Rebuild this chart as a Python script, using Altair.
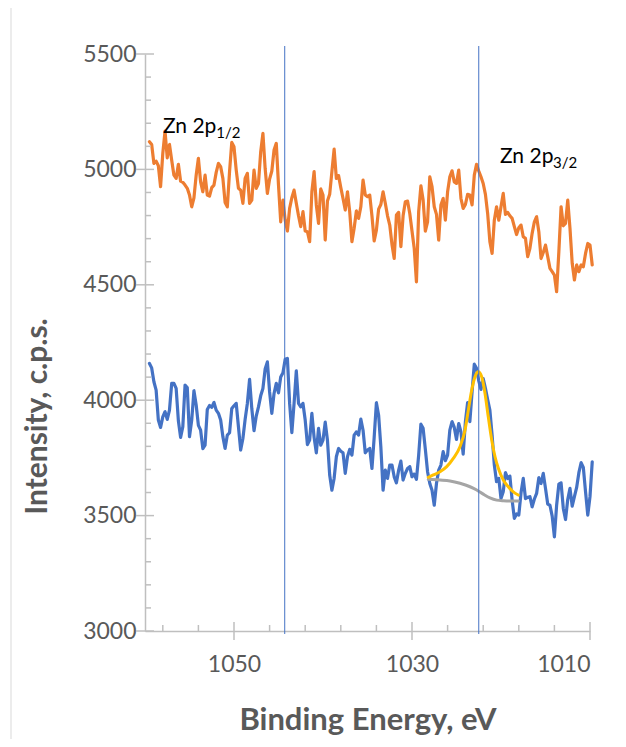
import altair as alt
import pandas as pd

# ---------------- data ----------------
energy = [
    1059.5, 1059.25, 1059.0, 1058.75, 1058.5, 1058.25, 1058.0, 1057.75,
    1057.5, 1057.25, 1057.0, 1056.75, 1056.5, 1056.25, 1056.0, 1055.75,
    1055.5, 1055.25, 1055.0, 1054.75, 1054.5, 1054.25, 1054.0, 1053.75,
    1053.5, 1053.25, 1053.0, 1052.75, 1052.5, 1052.25, 1052.0, 1051.75,
    1051.5, 1051.25, 1051.0, 1050.75, 1050.5, 1050.25, 1050.0, 1049.75,
    1049.5, 1049.25, 1049.0, 1048.75, 1048.5, 1048.25, 1048.0, 1047.75,
    1047.5, 1047.25, 1047.0, 1046.75, 1046.5, 1046.25, 1046.0, 1045.75,
    1045.5, 1045.25, 1045.0, 1044.75, 1044.5, 1044.25, 1044.0, 1043.75,
    1043.5, 1043.25, 1043.0, 1042.75, 1042.5, 1042.25, 1042.0, 1041.75,
    1041.5, 1041.25, 1041.0, 1040.75, 1040.5, 1040.25, 1040.0, 1039.75,
    1039.5, 1039.25, 1039.0, 1038.75, 1038.5, 1038.25, 1038.0, 1037.75,
    1037.5, 1037.25, 1037.0, 1036.75, 1036.5, 1036.25, 1036.0, 1035.75,
    1035.5, 1035.25, 1035.0, 1034.75, 1034.5, 1034.25, 1034.0, 1033.75,
    1033.5, 1033.25, 1033.0, 1032.75, 1032.5, 1032.25, 1032.0, 1031.75,
    1031.5, 1031.25, 1031.0, 1030.75, 1030.5, 1030.25, 1030.0, 1029.75,
    1029.5, 1029.25, 1029.0, 1028.75, 1028.5, 1028.25, 1028.0, 1027.75,
    1027.5, 1027.25, 1027.0, 1026.75, 1026.5, 1026.25, 1026.0, 1025.75,
    1025.5, 1025.25, 1025.0, 1024.75, 1024.5, 1024.25, 1024.0, 1023.75,
    1023.5, 1023.25, 1023.0, 1022.75, 1022.5, 1022.25, 1022.0, 1021.75,
    1021.5, 1021.25, 1021.0, 1020.75, 1020.5, 1020.25, 1020.0, 1019.75,
    1019.5, 1019.25, 1019.0, 1018.75, 1018.5, 1018.25, 1018.0, 1017.75,
    1017.5, 1017.25, 1017.0, 1016.75, 1016.5, 1016.25, 1016.0, 1015.75,
    1015.5, 1015.25, 1015.0, 1014.75, 1014.5, 1014.25, 1014.0, 1013.75,
    1013.5, 1013.25, 1013.0, 1012.75, 1012.5, 1012.25, 1012.0, 1011.75,
    1011.5, 1011.25, 1011.0, 1010.75, 1010.5, 1010.25, 1010.0, 1009.75,
]

orange_cps = [
    5120, 5108, 5026, 5036, 5016, 4925, 5069, 5166, 5050, 5108, 5040, 4975,
    4961, 5022, 4949, 4944, 4932, 4918, 4889, 4838, 4877, 4975, 5048, 4946,
    4903, 4975, 4889, 4884, 4921, 4932, 4987, 5026, 5012, 4961, 4857, 4838,
    4990, 5117, 5098, 4997, 4918, 4910, 4853, 4961, 4983, 4853, 4867, 4997,
    4918, 4939, 5076, 5156, 5004, 4896, 4958, 4993, 5084, 5113, 4932, 4773,
    4867, 4780, 4733, 4831, 4877, 4910,
    4853, 4799, 4752, 4817, 4733, 4730, 4687, 4903, 4990, 4846, 4766, 4915,
    4889, 4694, 4863, 4892, 4990, 5088, 4961, 4973, 4921, 4874, 4824, 4903,
    4817, 4687, 4745, 4820, 4788, 4838, 4954, 4889, 4882, 4889, 4799, 4690,
    4737, 4828, 4848, 4903, 4853, 4799, 4759, 4675, 4614, 4802, 4814, 4665,
    4799, 4860, 4863, 4809, 4733, 4658, 4513, 4817, 4929, 4867, 4733, 4773,
    4968, 4925, 4838, 4805, 4694, 4846, 4874,
    4780, 4903, 4968, 4994, 4946, 4939, 4997, 4874, 4831, 4848, 4892, 4889,
    4846, 4975, 5022, 4993, 4968, 4939, 4892, 4809, 4687, 4636, 4780, 4838,
    4780, 4838, 4896, 4805, 4814, 4799, 4788, 4752, 4718, 4747, 4759, 4708,
    4701, 4622, 4658, 4723, 4773, 4795, 4730, 4614, 4640, 4672, 4622, 4571,
    4557, 4542, 4470, 4643, 4838, 4756, 4766, 4867, 4745, 4593, 4521, 4586,
    4557, 4586, 4578, 4636, 4679, 4672, 4586,
]

blue_cps = [
    4159, 4140, 4080, 4044, 3914, 3882, 3928, 3950, 3917, 3957, 4073, 4073,
    4051, 3911, 3839, 3885, 4065, 4055, 3842, 3914, 4041, 3979, 3891, 3870,
    3790, 3805, 3960, 3977, 3969, 3990, 3957, 3943, 3914, 3842, 3791, 3849,
    3859, 3964, 3976, 3986, 3885, 3784, 3834, 3917, 3986, 4090, 3964, 3868,
    3931, 3971, 4019, 4051, 4135, 4166, 4036, 3943, 4029, 4073, 4032, 4101,
    4119, 4177, 4181, 3986, 3859, 3986,
    4127, 3986, 3971, 3986, 3914, 3808, 3827, 3943, 3839, 3772, 3878, 3805,
    3827, 3905, 3827, 3676, 3610, 3661, 3755, 3791, 3779, 3772, 3683, 3755,
    3787, 3762, 3849, 3863, 3849, 3918, 3870, 3772, 3784, 3791, 3704, 3839,
    3989, 3935, 3798, 3610, 3697, 3661, 3719, 3719, 3668, 3642, 3697, 3736,
    3654, 3683, 3704, 3712, 3668, 3680, 3657, 3762, 3896, 3878, 3787, 3690,
    3639, 3610, 3545, 3639, 3697, 3719, 3777,
    3738, 3762, 3870, 3907, 3882, 3830, 3899, 3863, 3766, 3907, 3990, 3907,
    4036, 4156, 4138, 4084, 4047, 4094, 4051, 4003, 3957, 3849, 3719, 3647,
    3661, 3574, 3603, 3686, 3661, 3671, 3567, 3488, 3507, 3502, 3599, 3661,
    3574, 3579, 3582, 3538, 3572, 3596, 3664, 3639, 3683, 3618, 3550, 3545,
    3498, 3408, 3545, 3636, 3642, 3531, 3483, 3570, 3618, 3541, 3582, 3622,
    3686, 3729, 3709, 3603, 3502, 3582, 3733,
]

fit_energy = [1028.17, 1027.61, 1026.85, 1026.10, 1025.36, 1024.61, 1024.04,
              1023.67, 1023.29, 1022.92, 1022.55, 1022.17, 1021.80, 1021.43,
              1021.04, 1020.67, 1020.30, 1019.74, 1019.18, 1018.62, 1018.06]
fit_cps = [3666, 3676, 3690, 3712, 3748, 3798, 3871, 3957, 4044, 4102, 4123,
           4102, 4030, 3928, 3827, 3755, 3705, 3654, 3625, 3603, 3589]

bg_energy = [1028.17, 1026.85, 1025.73, 1024.61, 1023.48, 1022.73, 1021.99,
             1021.24, 1020.48, 1019.74, 1018.99, 1018.06]
bg_cps = [3657, 3654, 3650, 3640, 3625, 3611, 3593, 3577, 3567, 3564, 3563, 3563]

peak_positions = [1044.3, 1022.5]

x_major = [1010, 1030, 1050]
x_minor = [1014, 1018, 1022, 1026, 1034, 1038, 1042, 1046, 1054, 1058]
y_major = [3000, 3500, 4000, 4500, 5000, 5500]
y_minor = [3100, 3200, 3300, 3400, 3600, 3700, 3800, 3900, 4100, 4200,
           4300, 4400, 4600, 4700, 4800, 4900, 5100, 5200, 5300, 5400]

label_main = ["Zn 2p", "Zn 2p"]
label_main_e = [1057.98, 1020.11]
label_main_cps = [5158, 5026]
label_sub = ["1/2", "3/2"]
label_sub_e = [1052.0, 1014.16]
label_sub_cps = [5136, 5005]

# ---------------- chart ----------------
W, H = 445, 577
FONT = "Lato"
AXIS_GRAY = "#BFBFBF"
TEXT_GRAY = "#595959"

xs = alt.Scale(domain=[1010, 1060], reverse=True, nice=False, zero=False)
ys = alt.Scale(domain=[3000, 5500], nice=False, zero=False)

series = pd.DataFrame({"e": energy, "orange": orange_cps, "blue": blue_cps})
orange_df = series[["e", "orange"]].rename(columns={"orange": "cps"})
blue_df = series[["e", "blue"]].rename(columns={"blue": "cps"})
fit_df = pd.DataFrame({"e": fit_energy, "cps": fit_cps})
bg_df = pd.DataFrame({"e": bg_energy, "cps": bg_cps})
peaks_df = pd.DataFrame({"e": peak_positions})
xmaj_df = pd.DataFrame({"e": x_major})
xmin_df = pd.DataFrame({"e": x_minor})
ymaj_df = pd.DataFrame({"cps": y_major})
ymin_df = pd.DataFrame({"cps": y_minor})
lab_df = pd.DataFrame({"e": label_main_e, "cps": label_main_cps, "t": label_main})
sub_df = pd.DataFrame({"e": label_sub_e, "cps": label_sub_cps, "t": label_sub})
frame_df = pd.DataFrame({"k": [0]})

x_axis = alt.Axis(
    values=x_major, format="d", title="Binding Energy, eV",
    labelFont=FONT, labelFontSize=23, labelColor=TEXT_GRAY, labelPadding=22,
    titleFont=FONT, titleFontSize=31, titleFontWeight="bold", titleColor=TEXT_GRAY,
    titleBaseline="alphabetic", titleY=98,
    ticks=False, grid=False, domainColor=AXIS_GRAY, domainWidth=1.5,
)
y_axis = alt.Axis(
    values=y_major, format="d", title="Intensity, c.p.s.",
    labelFont=FONT, labelFontSize=23, labelColor=TEXT_GRAY, labelPadding=9,
    titleFont=FONT, titleFontSize=30, titleFontWeight="bold", titleColor=TEXT_GRAY,
    titleBaseline="middle", titleX=-108, titleY=362,
    ticks=False, grid=False, domainColor=AXIS_GRAY, domainWidth=1.5,
)

blue_line = alt.Chart(blue_df).mark_line(
    color="#4472C4", strokeWidth=3.2, strokeJoin="round", strokeCap="round"
).encode(
    x=alt.X("e:Q", scale=xs, axis=x_axis),
    y=alt.Y("cps:Q", scale=ys, axis=y_axis),
    order="e:Q",
)
orange_line = alt.Chart(orange_df).mark_line(
    color="#ED7D31", strokeWidth=3.2, strokeJoin="round", strokeCap="round"
).encode(x=alt.X("e:Q", scale=xs), y=alt.Y("cps:Q", scale=ys), order="e:Q")

fit_line = alt.Chart(fit_df).mark_line(
    color="#FFC000", strokeWidth=3, interpolate="monotone", strokeCap="round"
).encode(x=alt.X("e:Q", scale=xs), y=alt.Y("cps:Q", scale=ys), order="e:Q")
bg_line = alt.Chart(bg_df).mark_line(
    color="#A5A5A5", strokeWidth=3, interpolate="monotone", strokeCap="round"
).encode(x=alt.X("e:Q", scale=xs), y=alt.Y("cps:Q", scale=ys), order="e:Q")

peak_rules = alt.Chart(peaks_df).mark_rule(color="#4472C4", strokeWidth=1).encode(
    x=alt.X("e:Q", scale=xs), y=alt.value(-8), y2=alt.value(H + 3)
)

xmaj_ticks = alt.Chart(xmaj_df).mark_rule(color=AXIS_GRAY, strokeWidth=1.5).encode(
    x=alt.X("e:Q", scale=xs), y=alt.value(H - 9), y2=alt.value(H + 9)
)
xmin_ticks = alt.Chart(xmin_df).mark_rule(color=AXIS_GRAY, strokeWidth=1.5).encode(
    x=alt.X("e:Q", scale=xs), y=alt.value(H - 6), y2=alt.value(H)
)
ymaj_ticks = alt.Chart(ymaj_df).mark_rule(color=AXIS_GRAY, strokeWidth=1.5).encode(
    y=alt.Y("cps:Q", scale=ys), x=alt.value(-9), x2=alt.value(9)
)
ymin_ticks = alt.Chart(ymin_df).mark_rule(color=AXIS_GRAY, strokeWidth=1.5).encode(
    y=alt.Y("cps:Q", scale=ys), x=alt.value(0), x2=alt.value(6)
)

# light chart-area border seen at the far left of the reference
frame_left = alt.Chart(frame_df).mark_rule(color="#D9D9D9", strokeWidth=1).encode(
    x=alt.value(-134), y=alt.value(-54), y2=alt.value(H + 116)
)

labels = alt.Chart(lab_df).mark_text(
    align="left", baseline="alphabetic", font=FONT, fontSize=21, color="black"
).encode(x=alt.X("e:Q", scale=xs), y=alt.Y("cps:Q", scale=ys), text="t:N")
subs = alt.Chart(sub_df).mark_text(
    align="left", baseline="alphabetic", font=FONT, fontSize=15, color="black"
).encode(x=alt.X("e:Q", scale=xs), y=alt.Y("cps:Q", scale=ys), text="t:N")

chart = alt.layer(
    frame_left,
    blue_line, orange_line, bg_line, fit_line,
    xmin_ticks, xmaj_ticks, ymin_ticks, ymaj_ticks,
    peak_rules, labels, subs,
).properties(
    width=W, height=H,
    padding={"left": 137, "top": 46, "right": 28, "bottom": 108},
    autosize=alt.AutoSizeParams(type="none"),
    background="white",
).configure_view(stroke=None)

chart.save("out.html", embed_options={"renderer": "svg", "actions": False})
